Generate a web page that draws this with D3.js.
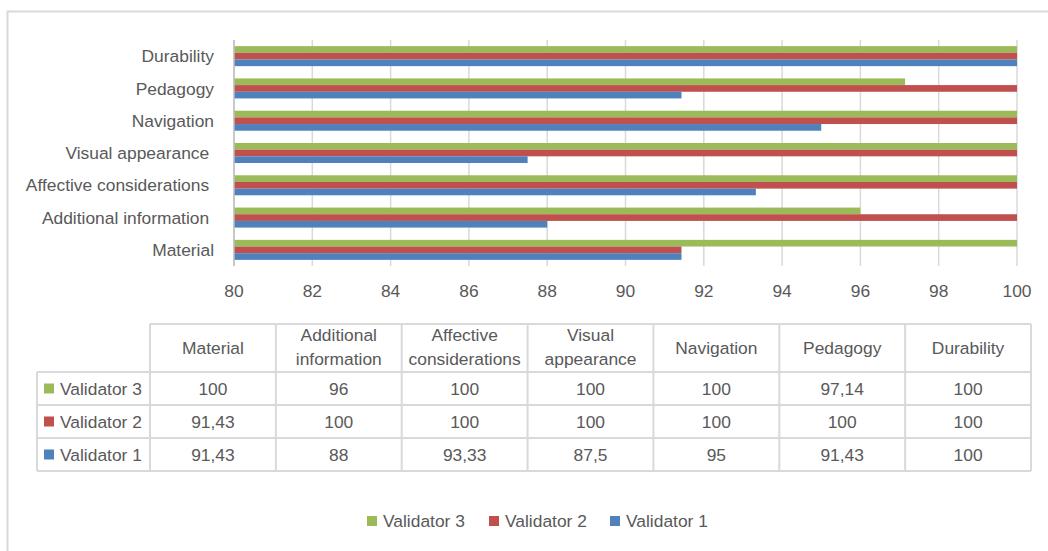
<!DOCTYPE html>
<html>
<head>
<meta charset="utf-8">
<script src="https://cdn.jsdelivr.net/npm/d3@7"></script>
<style>
  body { margin: 0; background: #fff; }
  svg { display: block; font-family: "Liberation Sans", Arial, sans-serif; }
  text { fill: #595959; white-space: pre; }
</style>
</head>
<body>
<div id="chart"></div>
<script>
// values
const categories = ["Material", "Additional information", "Affective considerations", "Visual appearance", "Navigation", "Pedagogy", "Durability"];
const axisLabels = ["Material", "Additional information ", "Affective considerations ", "Visual appearance ", "Navigation", "Pedagogy", "Durability"];
const headerLines = [["Material"], ["Additional", "information"], ["Affective", "considerations"], ["Visual", "appearance"], ["Navigation"], ["Pedagogy"], ["Durability"]];
const seriesNames = ["Validator 3", "Validator 2", "Validator 1"];
const validator1 = [91.43, 88, 93.33, 87.5, 95, 91.43, 100];
const validator2 = [91.43, 100, 100, 100, 100, 100, 100];
const validator3 = [100, 96, 100, 100, 100, 97.14, 100];
const xTicks = [80, 82, 84, 86, 88, 90, 92, 94, 96, 98, 100];
const colors = { "Validator 3": "#9BBB59", "Validator 2": "#C0504D", "Validator 1": "#4F81BD" };

const W = 1048, H = 551;
const FS = 17.4;
const seriesValues = { "Validator 3": validator3, "Validator 2": validator2, "Validator 1": validator1 };
const comma = v => String(v).replace(".", ",");

const svg = d3.select("#chart").append("svg")
  .attr("width", W)
  .attr("height", H);

// outer frame (only top and left visible)
svg.append("path")
  .attr("d", "M7.5,1048 V11.5 H1048")
  .attr("fill", "none")
  .attr("stroke", "#d9d9d9")
  .attr("stroke-width", 2);

const x = d3.scaleLinear().domain([80, 100]).range([234, 1017]);
const y = d3.scaleBand()
  .domain(categories.slice().reverse())
  .range([40, 266])
  .paddingInner(0.38)
  .paddingOuter(0.19);
const ySub = d3.scaleBand().domain(seriesNames).range([0, y.bandwidth()]);

// gridlines
svg.append("g")
  .selectAll("line")
  .data(xTicks)
  .join("line")
  .attr("x1", d => x(d)).attr("x2", d => x(d))
  .attr("y1", 40).attr("y2", 266)
  .attr("stroke", "#d9d9d9")
  .attr("stroke-width", 1.5);

// bars
const groups = svg.append("g")
  .selectAll("g")
  .data(categories)
  .join("g")
  .attr("transform", d => `translate(0,${y(d)})`);

groups.selectAll("rect")
  .data((c, i) => seriesNames.map(s => ({ s, v: seriesValues[s][i] })))
  .join("rect")
  .attr("x", x(80))
  .attr("y", d => ySub(d.s))
  .attr("width", d => x(d.v) - x(80))
  .attr("height", ySub.bandwidth())
  .attr("fill", d => colors[d.s]);

// vertical axis line
svg.append("line")
  .attr("x1", x(80)).attr("x2", x(80))
  .attr("y1", 40).attr("y2", 266)
  .attr("stroke", "#bfbfbf")
  .attr("stroke-width", 1.5);

// category labels
svg.append("g")
  .selectAll("text")
  .data(categories)
  .join("text")
  .attr("x", 214)
  .attr("y", d => y(d) + y.bandwidth() / 2)
  .attr("dy", "0.35em")
  .attr("text-anchor", "end")
  .attr("font-size", FS)
  .text((d, i) => axisLabels[i]);

// x tick labels
svg.append("g")
  .selectAll("text")
  .data(xTicks)
  .join("text")
  .attr("x", d => x(d))
  .attr("y", 291)
  .attr("dy", "0.35em")
  .attr("text-anchor", "middle")
  .attr("font-size", FS)
  .text(d => d);

// data table
const col = d3.scaleBand().domain(categories).range([150, 1031]);
const rowTop = [324, 372, 405, 438, 471];
const tbl = svg.append("g")
  .attr("stroke", "#d9d9d9")
  .attr("stroke-width", 2)
  .attr("fill", "none");

// horizontal lines
tbl.append("line").attr("x1", 150).attr("x2", 1031).attr("y1", rowTop[0]).attr("y2", rowTop[0]);
rowTop.slice(1).forEach(r => {
  tbl.append("line").attr("x1", 37).attr("x2", 1031).attr("y1", r).attr("y2", r);
});
// vertical lines
tbl.append("line").attr("x1", 37).attr("x2", 37).attr("y1", rowTop[1]).attr("y2", rowTop[4]);
categories.forEach(c => {
  tbl.append("line").attr("x1", col(c)).attr("x2", col(c)).attr("y1", rowTop[0]).attr("y2", rowTop[4]);
});
tbl.append("line").attr("x1", 1031).attr("x2", 1031).attr("y1", rowTop[0]).attr("y2", rowTop[4]);

// header text
const head = svg.append("g")
  .selectAll("text")
  .data(categories)
  .join("text")
  .attr("text-anchor", "middle")
  .attr("font-size", FS)
  .attr("x", d => col(d) + col.bandwidth() / 2)
  .attr("y", (d, i) => headerLines[i].length === 1 ? 348 : 335);
head.selectAll("tspan")
  .data((d, i) => headerLines[i])
  .join("tspan")
  .attr("x", function () { return this.parentNode.getAttribute("x"); })
  .attr("dy", (d, i) => i === 0 ? "0.35em" : "1.38em")
  .text(d => d);

// table rows
seriesNames.forEach((s, r) => {
  const cy = (rowTop[r + 1] + rowTop[r + 2]) / 2;
  svg.append("rect")
    .attr("x", 44).attr("y", cy - 5)
    .attr("width", 10).attr("height", 10)
    .attr("fill", colors[s]);
  svg.append("text")
    .attr("x", 60).attr("y", cy).attr("dy", "0.35em")
    .attr("font-size", FS)
    .text(s);
  svg.append("g")
    .selectAll("text")
    .data(seriesValues[s])
    .join("text")
    .attr("x", (d, i) => col(categories[i]) + col.bandwidth() / 2)
    .attr("y", cy).attr("dy", "0.35em")
    .attr("text-anchor", "middle")
    .attr("font-size", FS)
    .text(d => comma(d));
});

// legend
const legendX = [367, 489, 610];
const legend = svg.append("g")
  .selectAll("g")
  .data(seriesNames)
  .join("g")
  .attr("transform", (d, i) => `translate(${legendX[i]},521)`);
legend.append("rect")
  .attr("x", 0).attr("y", -5)
  .attr("width", 10).attr("height", 10)
  .attr("fill", d => colors[d]);
legend.append("text")
  .attr("x", 16).attr("dy", "0.35em")
  .attr("font-size", FS)
  .text(d => d);
</script>
</body>
</html>
